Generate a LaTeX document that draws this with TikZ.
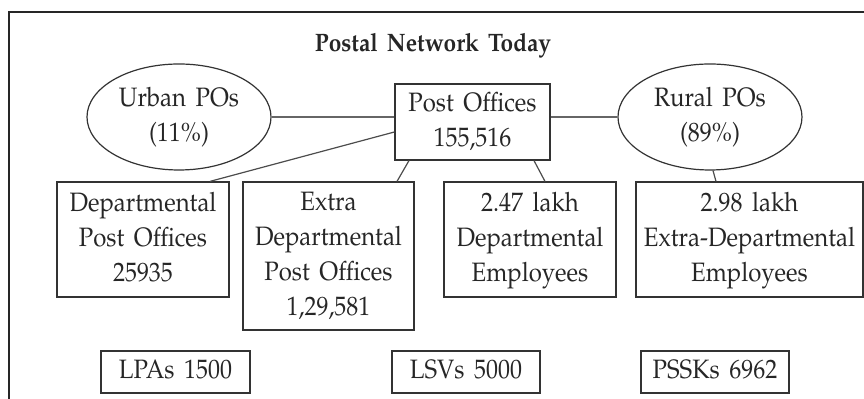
\documentclass[tikz,border=0pt]{standalone}
\usepackage[T1]{fontenc}
\usepackage{mathpazo}
\usepackage{graphicx}
\usetikzlibrary{shapes.geometric}
\newcommand\wsp{\spaceskip 0.4em\relax}
\newcommand\sqz[1]{\scalebox{0.9}[1]{\wsp\begin{tabular}{@{}c@{}}#1\end{tabular}}}
\tikzset{
  txt/.style={font={\fontsize{13.3}{17.5}\selectfont}, align=center, text=black!85},
  boxnode/.style={txt, draw=black!80, line width=0.6pt, inner sep=0pt},
  ellnode/.style={txt, ellipse, draw=black!80, line width=0.6pt, inner sep=0pt, minimum width=92pt, minimum height=53pt},
  conn/.style={draw=black!70, line width=0.6pt},
  hconn/.style={draw=black!60, line width=0.9pt},
  framestyle/.style={draw=black!85, line width=0.9pt}
}
\begin{document}
\begin{tikzpicture}[x=0.5pt,y=-0.5pt]
\useasboundingbox (0,0) rectangle (864,399);
\draw[framestyle] (9,402) -- (9,12) -- (866,12);
\node[txt, font={\fontsize{12.6}{15}\selectfont\bfseries}] (title) at (433,46) {\sqz{Postal Network Today}};
\node[ellnode] (urban) at (179,117) {\sqz{Urban POs\\(11\%)}};
\node[ellnode] (rural) at (710,117) {\sqz{Rural POs\\(89\%)}};
\node[boxnode, minimum width=77.5pt, minimum height=38pt] (po) at (472.5,122) {\sqz{Post Offices\\155,516}};
\node[boxnode, minimum width=86pt, minimum height=57.5pt] (dept) at (143,239.5) {\sqz{Departmental\\Post Offices\\25935}};
\node[boxnode, minimum width=85.5pt, minimum height=74pt] (extra) at (328.5,256) {\sqz{Extra\\Departmental\\Post Offices\\1,29,581}};
\node[boxnode, minimum width=86pt, minimum height=57.5pt] (emp) at (530,239.5) {\sqz{2.47 lakh\\Departmental\\Employees}};
\node[boxnode, minimum width=113.5pt, minimum height=57.5pt] (xemp) at (749.5,239.5) {\sqz{2.98 lakh\\Extra-Departmental\\Employees}};
\node[boxnode, minimum width=74.5pt, minimum height=21pt] (lpa) at (175.5,372) {\sqz{LPAs 1500}};
\node[boxnode, minimum width=74pt, minimum height=21pt] (lsv) at (466,372) {\sqz{LSVs 5000}};
\node[boxnode, minimum width=74pt, minimum height=21pt] (pssk) at (715,372) {\sqz{PSSKs 6962}};
\draw[hconn] (urban.east) -- (urban.east -| po.west);
\draw[hconn] (rural.west) -- (rural.west -| po.east);
\draw[conn] ([yshift=-5pt]po.west) -- ([xshift=33.5pt]dept.north);
\draw[conn] ([xshift=-31.75pt]po.south) -- ([xshift=34.25pt]extra.north);
\draw[conn] ([xshift=30.75pt]po.south) -- ([xshift=7.5pt]emp.north);
\draw[conn] ([xshift=1.5pt]rural.south) -- ([xshift=-16.75pt]xemp.north);
\end{tikzpicture}
\end{document}
